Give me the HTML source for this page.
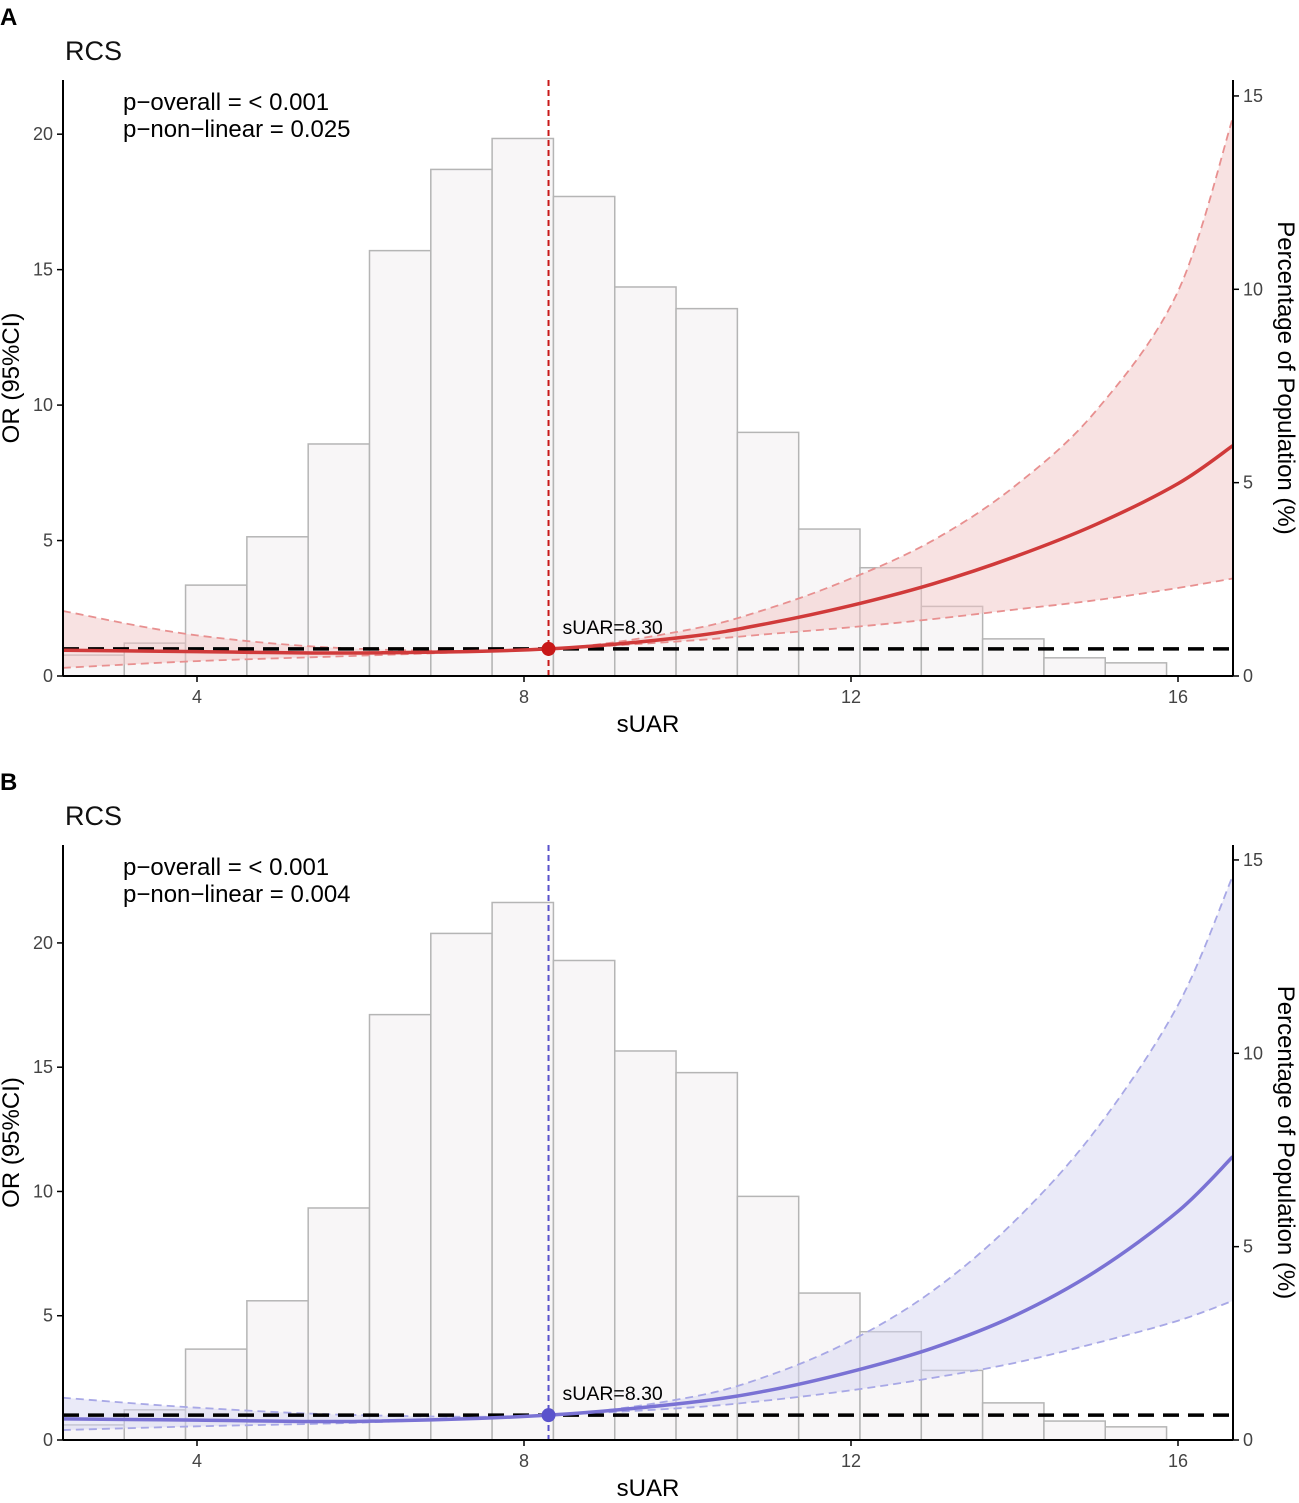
<!DOCTYPE html>
<html><head><meta charset="utf-8">
<style>
body{margin:0;background:#fff;}
svg text{font-family:"Liberation Sans",Arial,sans-serif;}
</style></head>
<body>
<svg id="chart" width="1299" height="1498" viewBox="0 0 1299 1498" xmlns="http://www.w3.org/2000/svg"></svg>
<script>
// Shared data
const binStarts = [2.36,3.11,3.86,4.61,5.36,6.11,6.86,7.61,8.36,9.11,9.86,10.61,11.36,12.11,12.86,13.61,14.36,15.11];
const pctA = [0.54,0.85,2.35,3.6,6.0,11.0,13.1,13.9,12.4,10.06,9.5,6.3,3.8,2.8,1.8,0.96,0.47,0.34];
const pctB = [0.39,0.78,2.35,3.6,6.0,11.0,13.1,13.9,12.4,10.06,9.5,6.3,3.8,2.8,1.8,0.96,0.49,0.34];
const curveX = [2.36,4,6,8.3,10,11,12,13,14,15,16,16.67];
const orA = [0.95,0.9,0.85,1.0,1.45,1.95,2.6,3.4,4.4,5.6,7.1,8.5];
const loA = [0.3,0.55,0.75,1.0,1.3,1.55,1.8,2.1,2.45,2.8,3.25,3.6];
const hiA = [2.4,1.5,1.0,1.0,1.7,2.5,3.6,5.0,7.0,9.8,14.2,20.6];
const orB = [0.85,0.8,0.75,1.0,1.5,2.0,2.75,3.7,5.0,6.8,9.2,11.4];
const loB = [0.4,0.55,0.7,1.0,1.3,1.6,2.0,2.5,3.1,3.9,4.8,5.6];
const hiB = [1.7,1.3,1.0,1.0,1.7,2.6,4.0,6.0,8.8,12.5,17.5,22.7];
const xTicks = [4,8,12,16];
const yTicks = [0,5,10,15,20];
const rTicks = [0,5,10,15];
const cutoff = 8.30;

const NS="http://www.w3.org/2000/svg";
const svg=document.getElementById('chart');
function mk(tag,attrs,parent){const e=document.createElementNS(NS,tag);for(const k in attrs)e.setAttribute(k,attrs[k]);(parent||svg).appendChild(e);return e;}
function smooth(pts){let d=`M${pts[0][0]},${pts[0][1]}`;for(let i=0;i<pts.length-1;i++){const p0=pts[Math.max(i-1,0)],p1=pts[i],p2=pts[i+1],p3=pts[Math.min(i+2,pts.length-1)];const c1=[p1[0]+(p2[0]-p0[0])/6,p1[1]+(p2[1]-p0[1])/6],c2=[p2[0]-(p3[0]-p1[0])/6,p2[1]-(p3[1]-p1[1])/6];d+=`C${c1[0]},${c1[1]} ${c2[0]},${c2[1]} ${p2[0]},${p2[1]}`;}return d;}

function panel(cfg){
  const g=mk('g',{});
  
  
  const L=63,R=1233,top=cfg.top,bot=cfg.bot;
  const xs=v=>197+(v-4)*81.75;
  const ys=v=>bot-(v)*(bot-top)/cfg.ymax;
  const rs=v=>bot-v*38.67;
  let t=mk('text',{x:0,y:top-55,'font-size':24,'font-weight':'bold',fill:'#000'},g);t.textContent=cfg.letter;
  
  t=mk('text',{x:65,y:top-20,'font-size':27,fill:'#111'},g);t.textContent='RCS';
  
  binStarts.forEach((b,i)=>{
    const r=mk('rect',{x:xs(b),y:rs(cfg.pct[i]),width:xs(b+0.75)-xs(b),height:bot-rs(cfg.pct[i]),fill:'#f8f6f7',stroke:'#b5b5b5','stroke-width':1.5},g);
    
  });
  const up=curveX.map((x,i)=>[xs(x),ys(cfg.hi[i])]);
  const lo=curveX.map((x,i)=>[xs(x),ys(cfg.lo[i])]);
  const revLo=lo.slice().reverse();
  let d=smooth(up)+'L'+smooth(revLo).slice(1)+'Z';
  let p=mk('path',{d:d,fill:cfg.fill,opacity:0.5},g);
  
  [up,lo].forEach((pts,k)=>{
    const q=mk('path',{d:smooth(pts),fill:'none',stroke:cfg.ci,'stroke-width':1.8,'stroke-dasharray':'8,5'},g);
    
  });
  let l=mk('line',{x1:L,x2:R,y1:ys(1),y2:ys(1),stroke:'#000','stroke-width':3.5,'stroke-dasharray':'16,9'},g);
  
  p=mk('path',{d:smooth(curveX.map((x,i)=>[xs(x),ys(cfg.or[i])])),fill:'none',stroke:cfg.line,'stroke-width':3.5},g);
  
  l=mk('line',{x1:xs(cutoff),x2:xs(cutoff),y1:top,y2:bot,stroke:cfg.vline,'stroke-width':2,'stroke-dasharray':'6,4'},g);
  
  const c=mk('circle',{cx:xs(cutoff),cy:ys(1),r:7,fill:cfg.vline},g);
  
  t=mk('text',{x:xs(cutoff)+14,y:ys(1)-15,'font-size':19.5,fill:'#000'},g);t.textContent='sUAR=8.30';
  
  mk('line',{x1:L,x2:L,y1:top,y2:bot,stroke:'#000','stroke-width':2},g);
  mk('line',{x1:R,x2:R,y1:top,y2:bot,stroke:'#000','stroke-width':2},g);
  mk('line',{x1:L,x2:R,y1:bot,y2:bot,stroke:'#000','stroke-width':2},g);
  xTicks.forEach(v=>{mk('line',{x1:xs(v),x2:xs(v),y1:bot,y2:bot+6,stroke:'#000','stroke-width':1.5},g);
    const tt=mk('text',{x:xs(v),y:bot+27,'font-size':18,fill:'#444','text-anchor':'middle'},g);tt.textContent=v;
    });
  yTicks.forEach(v=>{mk('line',{x1:L-6,x2:L,y1:ys(v),y2:ys(v),stroke:'#000','stroke-width':1.5},g);
    const tt=mk('text',{x:L-10,y:ys(v)+6,'font-size':18,fill:'#444','text-anchor':'end'},g);tt.textContent=v;
    });
  rTicks.forEach(v=>{mk('line',{x1:R,x2:R+6,y1:rs(v),y2:rs(v),stroke:'#000','stroke-width':1.5},g);
    const tt=mk('text',{x:R+10,y:rs(v)+6,'font-size':18,fill:'#444'},g);tt.textContent=v;
    });
  t=mk('text',{x:648,y:bot+56,'font-size':24,'text-anchor':'middle',fill:'#000'},g);t.textContent='sUAR';
  
  const mid=(top+bot)/2;
  t=mk('text',{x:0,y:0,'font-size':24,'text-anchor':'middle',fill:'#000',transform:`translate(19,${mid}) rotate(-90)`},g);t.textContent='OR (95%CI)';
  
  t=mk('text',{x:0,y:0,'font-size':24,'text-anchor':'middle',fill:'#000',transform:`translate(1278,${mid}) rotate(90)`},g);t.textContent='Percentage of Population (%)';
  
  t=mk('text',{x:123,y:top+30,'font-size':24,fill:'#000'},g);t.textContent='p−overall = < 0.001';
  
  t=mk('text',{x:123,y:top+57,'font-size':24,fill:'#000'},g);t.textContent='p−non−linear = '+cfg.pnl;
  
}
panel({name:'panel-a',letter:'A',top:80,bot:676,ymax:22,pct:pctA,or:orA,lo:loA,hi:hiA,fill:'#f2c5c5',ci:'#e89090',line:'#d03a3a',vline:'#c81818',pnl:'0.025'});
panel({name:'panel-b',letter:'B',top:845,bot:1440,ymax:23.94,pct:pctB,or:orB,lo:loB,hi:hiB,fill:'#d6d6f2',ci:'#a8a8e6',line:'#7a72d4',vline:'#5a52cc',pnl:'0.004'});
</script>
</body></html>
